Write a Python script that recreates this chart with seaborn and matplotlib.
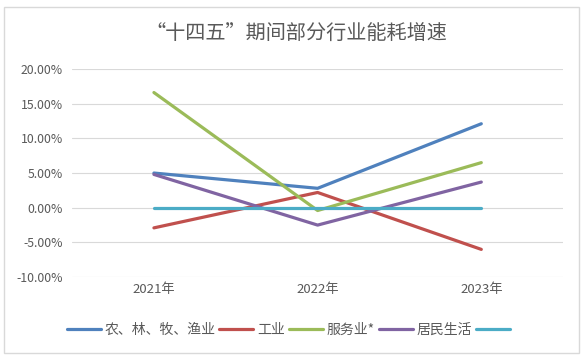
import pandas as pd
import seaborn as sns
import matplotlib.pyplot as plt
from matplotlib.patches import Rectangle
from matplotlib.ticker import FuncFormatter

# data (growth rate, %)
years = ['2021年', '2022年', '2023年']
series = ['农、林、牧、渔业', '工业', '服务业*', '居民生活', '']
agri = [5.0, 2.8, 12.1]
industry = [-2.9, 2.2, -6.0]
service = [16.6, -0.4, 6.5]
household = [4.8, -2.5, 3.7]
other = [0.0, 0.0, 0.0]
colors = ['#4F81BD', '#C0504D', '#9BBB59', '#8064A2', '#4BACC6']

rows = []
for name, vals in zip(series, [agri, industry, service, household, other]):
    for y, v in zip(years, vals):
        rows.append({'year': y, 'series': name, 'value': v})
df = pd.DataFrame(rows)

sns.set_theme(style='white')
plt.rcParams['font.family'] = ['Noto Sans CJK SC', 'DejaVu Sans']

fig = plt.figure(figsize=(5.86, 3.59), dpi=100)
ax = fig.add_axes([0.123, 0.228, 0.838, 0.58])

sns.lineplot(data=df, x='year', y='value', hue='series', hue_order=series,
             palette=colors, linewidth=2.3, legend=False, ax=ax, sort=False)

ax.set_xlim(-0.5, 2.5)
ax.set_ylim(-10, 20)
ax.set_yticks([-10, -5, 0, 5, 10, 15, 20])
ax.yaxis.set_major_formatter(FuncFormatter(lambda v, p: f'{v:.2f}%'))
ax.grid(axis='y', color='#D9D9D9', linewidth=0.8)
ax.set_axisbelow(True)
for s in ax.spines.values():
    s.set_visible(False)
ax.tick_params(axis='y', length=0, labelsize=8.8, colors='#595959', pad=6.5)
ax.tick_params(axis='x', length=0, labelsize=9.5, colors='#595959', pad=4)
ax.set_xlabel('')
ax.set_ylabel('')

fig.text(0.505, 0.905, '“十四五”期间部分行业能耗增速', ha='center', va='center',
         fontsize=14.5, color='#595959')

handles = ax.get_lines()[:len(series)]
fig.legend(handles, series, loc='center', bbox_to_anchor=(0.495, 0.081), ncol=5,
           frameon=False, fontsize=10, handlelength=2.45, handletextpad=0.25,
           columnspacing=0.3, labelcolor='#595959')

fig.patches.append(Rectangle((0.0068, 0.0167), 0.981, 0.964, transform=fig.transFigure,
                             fill=False, edgecolor='#D9D9D9', linewidth=1))

fig.savefig('out.png', dpi=100)
